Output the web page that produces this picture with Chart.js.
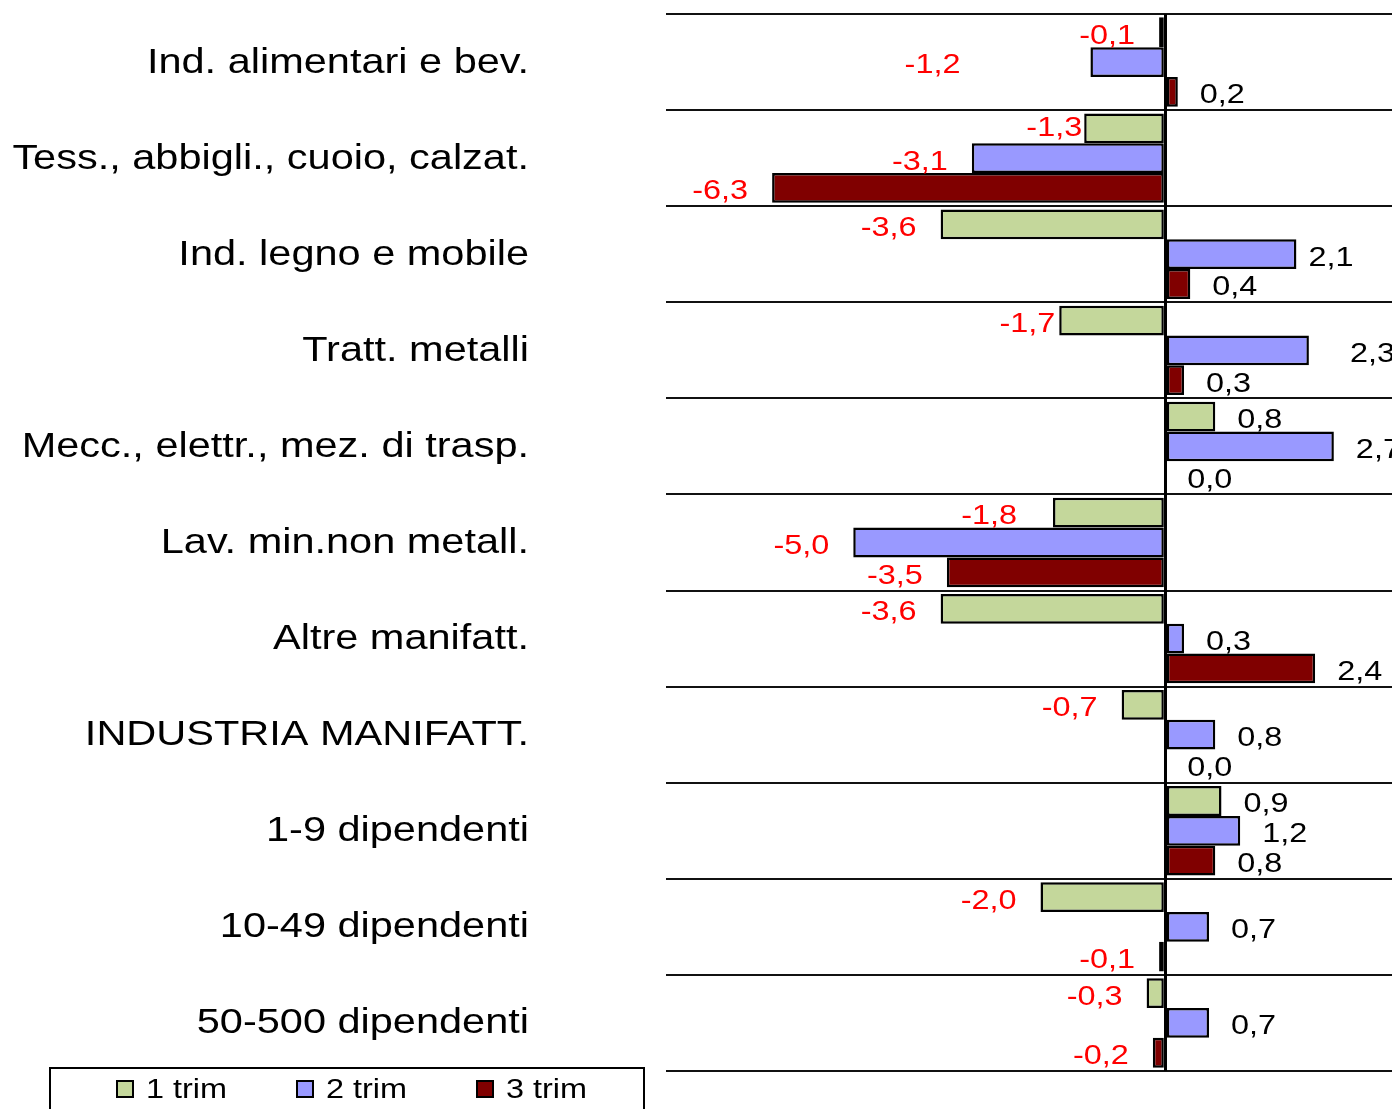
<!DOCTYPE html>
<html>
<head>
<meta charset="utf-8">
<script src="https://cdn.jsdelivr.net/npm/chart.js@4.4.1/dist/chart.umd.min.js"></script>
<style>
  html, body { margin: 0; padding: 0; overflow: hidden; background: #fff; }
  #wrap { width: 1420px; height: 1109px; }
</style>
</head>
<body>
<div id="wrap"><canvas id="chart"></canvas></div>
<script>
const categories = [
  "Ind. alimentari e bev.",
  "Tess., abbigli., cuoio, calzat.",
  "Ind. legno e mobile",
  "Tratt. metalli",
  "Mecc., elettr., mez. di trasp.",
  "Lav. min.non metall.",
  "Altre manifatt.",
  "INDUSTRIA MANIFATT.",
  "1-9 dipendenti",
  "10-49 dipendenti",
  "50-500 dipendenti"
];
const seriesNames = ["1 trim", "2 trim", "3 trim"];
const trim1 = [-0.1, -1.3, -3.6, -1.7, 0.8, -1.8, -3.6, -0.7, 0.9, -2.0, -0.3];
const trim2 = [-1.2, -3.1, 2.1, 2.3, 2.7, -5.0, 0.3, 0.8, 1.2, 0.7, 0.7];
const trim3 = [0.2, -6.3, 0.4, 0.3, 0.0, -3.5, 2.4, 0.0, 0.8, -0.1, -0.2];

const fills = ["#C4D79B", "#9999FF", "#800000"];
// the source picture is stretched sideways
const STRETCH = 1.2;
// label nudges [dataset, index, dx, dy] where the original placed labels oddly
const labelNudges = [[1, 0, -106, 0], [0, 1, 22, -4], [0, 3, 20, 0], [0, 5, -12, 0], [1, 2, -10, 0], [1, 3, 19, 0]];

function fmt(v) {
  return v.toFixed(1).replace(".", ",");
}

const valueLabels = {
  id: "valueLabels",
  afterDatasetsDraw(chart) {
    const ctx = chart.ctx;
    ctx.save();
    ctx.font = "27px 'Liberation Sans', Arial, sans-serif";
    ctx.textBaseline = "middle";
    chart.data.datasets.forEach((ds, di) => {
      const meta = chart.getDatasetMeta(di);
      meta.data.forEach((el, i) => {
        const v = ds.data[i];
        let dx = 0, dy = 0;
        labelNudges.forEach(n => { if (n[0] === di && n[1] === i) { dx = n[2]; dy = n[3]; } });
        const neg = v < 0;
        const x = neg ? el.x - 24 + dx : el.x + 22 + dx;
        ctx.save();
        ctx.translate(x, el.y + 4 + dy);
        ctx.scale(STRETCH, 1);
        ctx.fillStyle = neg ? "#FF0000" : "#000000";
        ctx.textAlign = neg ? "right" : "left";
        ctx.fillText(fmt(v), 0, 0);
        ctx.restore();
      });
    });
    ctx.restore();
  }
};

const categoryLabels = {
  id: "categoryLabels",
  afterDraw(chart) {
    const ctx = chart.ctx;
    const yScale = chart.scales.y;
    ctx.save();
    ctx.font = "34.6px 'Liberation Sans', Arial, sans-serif";
    ctx.textBaseline = "middle";
    ctx.textAlign = "right";
    ctx.fillStyle = "#000";
    categories.forEach((c, i) => {
      ctx.save();
      ctx.translate(529, yScale.getPixelForValue(i) + 1);
      ctx.scale(STRETCH, 1);
      ctx.fillText(c, 0, 0);
      ctx.restore();
    });
    ctx.restore();
  }
};

const boxLegend = {
  id: "boxLegend",
  afterDraw(chart) {
    const ctx = chart.ctx;
    ctx.save();
    ctx.strokeStyle = "#000";
    ctx.lineWidth = 2;
    ctx.strokeRect(50, 1068, 594, 60);
    ctx.font = "27px 'Liberation Sans', Arial, sans-serif";
    ctx.textBaseline = "middle";
    ctx.textAlign = "left";
    chart.data.datasets.forEach((ds, i) => {
      const x = 117 + i * 180;
      ctx.fillStyle = ds.backgroundColor;
      ctx.fillRect(x, 1081, 16, 16);
      ctx.lineWidth = 2;
      ctx.strokeRect(x, 1081, 16, 16);
      ctx.save();
      ctx.translate(x + 29, 1091);
      ctx.scale(STRETCH, 1);
      ctx.fillStyle = "#000";
      ctx.fillText(ds.label, 0, 0);
      ctx.restore();
    });
    ctx.restore();
  }
};

new Chart(document.getElementById("chart"), {
  type: "bar",
  data: {
    labels: categories,
    datasets: [trim1, trim2, trim3].map((d, i) => ({
      label: seriesNames[i],
      data: d,
      backgroundColor: fills[i],
      borderColor: "#000",
      borderWidth: 2.5,
      borderSkipped: false,
      barPercentage: 1,
      categoryPercentage: 0.93
    }))
  },
  options: {
    indexAxis: "y",
    responsive: true,
    maintainAspectRatio: false,
    animation: false,
    layout: { padding: { top: 14, bottom: 38, left: 0, right: 5 } },
    plugins: { legend: { display: false }, tooltip: { enabled: false } },
    scales: {
      y: {
        ticks: { display: false },
        grid: { offset: true, color: "#111", lineWidth: 2, drawTicks: false },
        border: { display: false },
        afterFit(scale) { scale.width = 666; }
      },
      x: {
        min: -8,
        max: 4,
        ticks: { display: false, stepSize: 2 },
        grid: {
          drawTicks: false,
          color: c => (c.tick && c.tick.value === 0 ? "#000" : "rgba(0,0,0,0)"),
          lineWidth: 3
        },
        border: { display: false },
        afterFit(scale) { scale.height = 0; }
      }
    }
  },
  plugins: [valueLabels, categoryLabels, boxLegend]
});
</script>
</body>
</html>
